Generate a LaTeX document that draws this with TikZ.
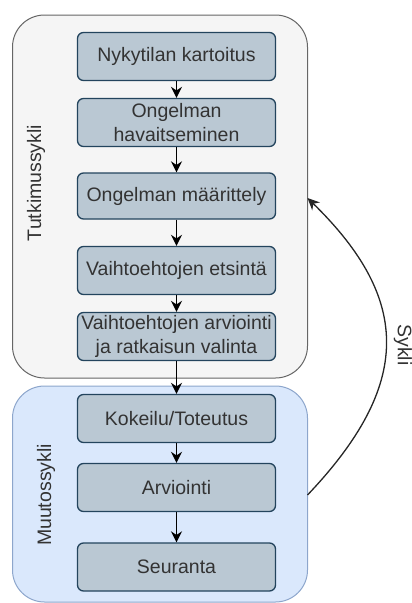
\documentclass[tikz,border=0pt]{standalone}
\usepackage{fontspec}
\setmainfont{Liberation Sans}
\usetikzlibrary{arrows.meta}
\definecolor{tutfill}{HTML}{F5F5F5}
\definecolor{tutline}{HTML}{666666}
\definecolor{muufill}{HTML}{DAE8FC}
\definecolor{muuline}{HTML}{8DA6CC}
\definecolor{boxfill}{HTML}{BAC8D3}
\definecolor{boxline}{HTML}{23445D}
\definecolor{txt}{HTML}{333333}
\begin{document}
\begin{tikzpicture}[x=1pt,y=-1pt,
  container/.style={draw, line width=1pt, rounded corners=32pt, inner sep=0pt},
  stepbox/.style={draw=boxline, fill=boxfill, line width=1.3pt, rounded corners=6pt,
    minimum width=198pt, minimum height=48pt, inner sep=0pt, align=center,
    text=txt, font=\fontsize{19.5}{24}\selectfont},
  lbl/.style={text=txt, font=\fontsize{19.5}{24}\selectfont, inner sep=0pt},
  flow/.style={draw=black, line width=1.6pt, -{Stealth[length=11pt,width=11pt]}},
  cyc/.style={draw=black!85, line width=1.3pt, -{Stealth[length=12pt,width=11pt]}}
]
\useasboundingbox (0,0) rectangle (412,603);
\node[container, draw=tutline, fill=tutfill, minimum width=295pt, minimum height=363pt] (tut) at (160,196.5) {};
\node[container, draw=muuline, fill=muufill, minimum width=295pt, minimum height=216pt] (muu) at (160,494) {};

\node[lbl, rotate=90] (tutl) at (36,183) {Tutkimussykli};
\node[lbl, rotate=90] (muul) at (46,495) {Muutossykli};

\node[stepbox] (b1) at (176.5,56.5) {Nykytilan kartoitus};
\node[stepbox] (b2) at (176.5,122.5) {Ongelman\\havaitseminen};
\node[stepbox, minimum height=46pt] (b3) at (176.5,196) {Ongelman määrittely};
\node[stepbox] (b4) at (176.5,270.5) {Vaihtoehtojen etsintä};
\node[stepbox] (b5) at (176.5,336.5) {Vaihtoehtojen arviointi\\ja ratkaisun valinta};
\node[stepbox] (b6) at (176.5,418.5) {Kokeilu/Toteutus};
\node[stepbox] (b7) at (176.5,487.5) {Arviointi};
\node[stepbox] (b8) at (176.5,567) {Seuranta};

\draw[flow] (b1) -- (b2);
\draw[flow] (b2) -- (b3);
\draw[flow] (b3) -- (b4);
\draw[flow] (b4) -- (b5);
\draw[flow] (b5) -- (b6);
\draw[flow] (b6) -- (b7);
\draw[flow] (b7) -- (b8);

\coordinate (cs) at (307.5,495);
\coordinate (ce) at (307.5,198);
\draw[cyc] (cs) .. controls (412,385) and (412,300) .. (ce);
\node[lbl, rotate=-90] (sykli) at (403,345) {Sykli};
\end{tikzpicture}
\end{document}
